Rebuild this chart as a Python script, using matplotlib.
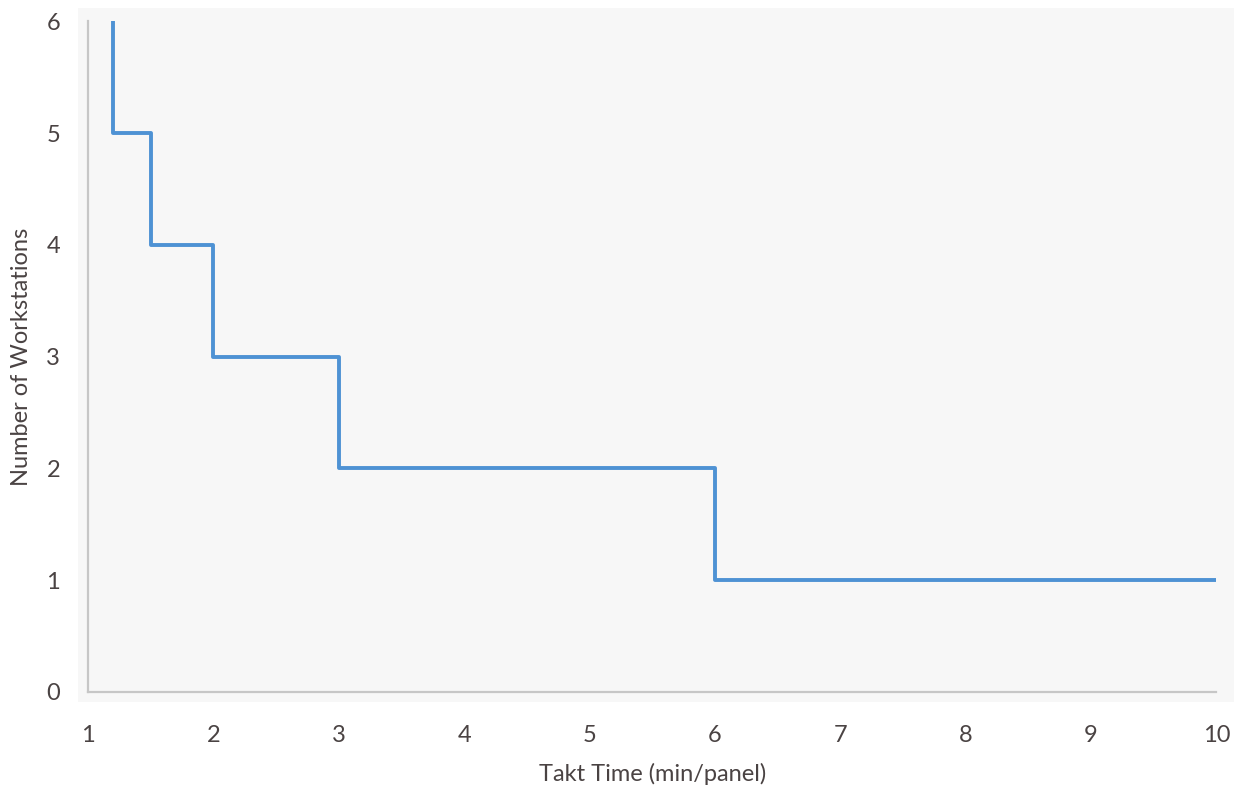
import matplotlib
matplotlib.use('Agg')
import matplotlib.pyplot as plt
from matplotlib.patches import Rectangle

# takt time (min/panel) where station count changes, and the count
takt = [1.2, 1.2, 1.5, 2, 3, 6, 10]
stations = [6, 5, 4, 3, 2, 1, 1]

xticks = [1, 2, 3, 4, 5, 6, 7, 8, 9, 10]
yticks = [0, 1, 2, 3, 4, 5, 6]

plt.rcParams['font.family'] = ['Lato', 'DejaVu Sans']
txt = '#4a4343'

fig = plt.figure(figsize=(12.4, 7.88), dpi=100)
fig.patches.append(Rectangle((0.063, 0.109), 0.932, 0.881, transform=fig.transFigure,
                             facecolor='#f7f7f7', edgecolor='none', zorder=-5))

ax = fig.add_axes([0.071, 0.122, 0.910, 0.851])
ax.set_zorder(2)
ax.patch.set_alpha(0)

ax.step(takt, stations, where='post', color='#4e92d4', lw=2.8, solid_capstyle='butt')

ax.set_xlim(1, 10)
ax.set_ylim(0, 6)
ax.set_xticks(xticks)
ax.set_yticks(yticks)
ax.tick_params(length=0, labelsize=17, colors=txt)
ax.tick_params(axis='x', pad=24)
ax.tick_params(axis='y', pad=20)

for s in ['top', 'right']:
    ax.spines[s].set_visible(False)
for s in ['left', 'bottom']:
    ax.spines[s].set_color('#c6c6c6')
    ax.spines[s].set_linewidth(1.6)

ax.set_xlabel('Takt Time (min/panel)', fontsize=17, color=txt, labelpad=12)
ax.set_ylabel('Number of Workstations', fontsize=17, color=txt, labelpad=10)

fig.savefig('out.png', dpi=100)
